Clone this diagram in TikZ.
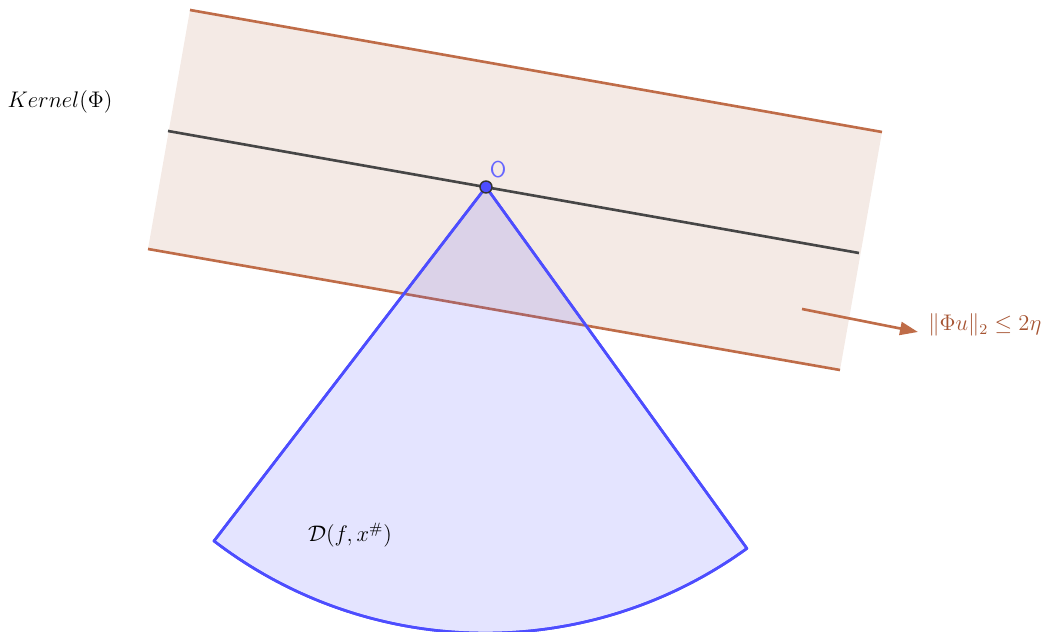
\documentclass[tikz,border=0pt]{standalone}
\usepackage{graphicx}
\usetikzlibrary{arrows.meta}
\definecolor{bandline}{RGB}{191,108,72}
\definecolor{bandfill}{RGB}{244,234,229}
\definecolor{bandtext}{RGB}{166,84,50}
\definecolor{conecol}{RGB}{77,77,255}
\definecolor{kercol}{RGB}{70,70,70}
\definecolor{ocol}{RGB}{102,102,255}
\newcommand{\mylbl}[1]{\scalebox{1.07}{#1}}
\begin{document}
\begin{tikzpicture}[x=0.02cm,y=0.02cm,
  edge/.style={draw=bandline,line width=1.5pt},
  kerline/.style={draw=kercol,line width=1.5pt},
  cone/.style={draw=conecol,line width=1.5pt,fill=conecol,fill opacity=0.15,line join=round},
  lbl/.style={font=\fontsize{12}{14}\selectfont,inner sep=0pt}]
\useasboundingbox (0,0) rectangle (1041,632);
\coordinate (A) at (190,622);
\coordinate (B) at (882,500);
\coordinate (C) at (840,262);
\coordinate (D) at (148,383);
\coordinate (K1) at (168,501);
\coordinate (K2) at (859,379);
\coordinate (O) at (486,445);
\coordinate (L) at (214,91);
\fill[bandfill] (A) -- (B) -- (C) -- (D) -- cycle;
\draw[edge] (A) -- (B);
\draw[edge] (D) -- (C);
\draw[kerline] (K1) -- (K2);
\path[cone] (O) -- (L) arc[start angle=232.5,end angle=305.9,radius=8.92cm] -- cycle;
\draw[cone,fill opacity=0] (O) -- (L) arc[start angle=232.5,end angle=305.9,radius=8.92cm] -- cycle;
\node[circle,fill=conecol,draw=black!80,line width=0.8pt,inner sep=0pt,minimum size=0.24cm] (Odot) at (O) {};
\node[font=\sffamily\fontsize{13}{15}\selectfont,text=ocol,inner sep=0pt] (Olbl) at (498,462) {O};
\coordinate (a1) at (802,323);
\node[lbl,text=bandtext,anchor=west] (norm) at (928,307) {\mylbl{$\|\Phi u\|_2 \leq 2\eta$}};
\coordinate (a2) at (918,300);
\draw[draw=bandline,line width=1.5pt,-{Triangle[length=0.36cm,width=0.26cm]}] (a1) -- (a2);
\node[lbl] (ker) at (60,530) {\mylbl{$Kernel(\Phi)$}};
\node[lbl] (dlbl) at (350,97) {\mylbl{$\mathcal{D}(f,x^{\#})$}};
\end{tikzpicture}
\end{document}
